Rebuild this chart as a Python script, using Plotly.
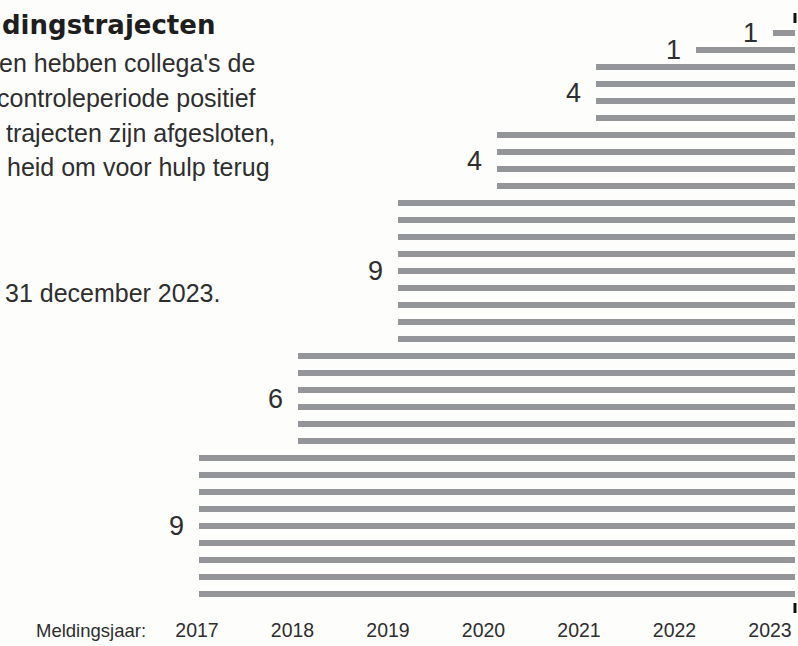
import plotly.graph_objects as go

# ---- data ----
report_years = [2017, 2018, 2019, 2020, 2021, 2022, 2023]
trajectory_counts = [9, 6, 9, 4, 4, 1, 1]
bar_start = [2017, 2018, 2019, 2020, 2021, 2022, 2022.78]
period_end = 2023
tick_labels = ["2017", "2018", "2019", "2020", "2021", "2022", "2023"]
axis_label = "Meldingsjaar:"
title_text = "dingstrajecten"
body_lines = [
    "en hebben collega's de",
    "controleperiode positief",
    " trajecten zijn afgesloten,",
    "heid om voor hulp terug",
    "31 december 2023.",
]

# ---- layout constants (pixels) ----
W, H = 798, 646
PLOT_BOTTOM = 616
X_PX0, X_SCALE = 199, 99.33      # main x axis: 2017 at 199px
X2_PX0, X2_SCALE = 197, 95.5     # label axis
ROW0_PX, ROW_PX = 594.3, 17.0
BAR_COLOR = "#939598"
TEXT_COLOR = "#2e2e2e"
BG = "#fdfdfc"

xr = [2017 - X_PX0 / X_SCALE, 2017 + (W - X_PX0) / X_SCALE]
x2r = [2017 - X2_PX0 / X2_SCALE, 2017 + (W - X2_PX0) / X2_SCALE]
yr = [(ROW0_PX - PLOT_BOTTOM) / ROW_PX, ROW0_PX / ROW_PX]

# build one row per trajectory
rows, bases, lengths, label_rows = [], [], [], []
r = 0
for s, c in zip(bar_start, trajectory_counts):
    first = r
    for _ in range(c):
        rows.append(r)
        bases.append(s)
        lengths.append(period_end - s)
        r += 1
    label_rows.append((first + r - 1) / 2)

fig = go.Figure()
fig.add_trace(go.Bar(
    orientation="h", y=rows, x=lengths, base=bases,
    width=6 / ROW_PX, marker=dict(color=BAR_COLOR, line=dict(width=0)),
    hoverinfo="skip", showlegend=False,
))
fig.add_trace(go.Scatter(
    x=report_years, y=[None] * len(report_years), xaxis="x2", yaxis="y",
    mode="markers", showlegend=False, hoverinfo="skip",
))

annotations = []
for s, c, lr in zip(bar_start, trajectory_counts, label_rows):
    annotations.append(dict(
        x=s, y=lr, xref="x", yref="y", text=str(c), showarrow=False,
        xanchor="right", yanchor="middle", xshift=-13,
        font=dict(family="Liberation Sans", size=27, color=TEXT_COLOR),
    ))

def py(px):
    return (PLOT_BOTTOM - px) / PLOT_BOTTOM

annotations.append(dict(
    x=217 / W, y=py(25), xref="paper", yref="paper", text="<b>" + title_text + "</b>",
    showarrow=False, xanchor="right", yanchor="middle",
    font=dict(family="DejaVu Sans", size=26, color="#1e1e1e"),
))
for txt, right, ypx in zip(body_lines, [257, 258, 278, 272, 222], [63, 98, 133, 167, 293]):
    annotations.append(dict(
        x=right / W, y=py(ypx), xref="paper", yref="paper", text=txt,
        showarrow=False, xanchor="right", yanchor="middle",
        font=dict(family="Liberation Sans", size=25, color=TEXT_COLOR),
    ))
annotations.append(dict(
    x=148 / W, y=py(630), xref="paper", yref="paper", text=axis_label,
    showarrow=False, xanchor="right", yanchor="middle",
    font=dict(family="Liberation Sans", size=18.5, color=TEXT_COLOR),
))

shapes = []
for y0, y1 in [(13, 23), (603, 613)]:
    shapes.append(dict(
        type="line", xref="x", yref="y", x0=period_end, x1=period_end,
        y0=(ROW0_PX - y0) / ROW_PX, y1=(ROW0_PX - y1) / ROW_PX,
        line=dict(color="#111111", width=3),
    ))

fig.update_layout(
    width=W, height=H,
    margin=dict(l=0, r=0, t=0, b=H - PLOT_BOTTOM),
    paper_bgcolor=BG, plot_bgcolor=BG,
    barmode="overlay", bargap=0,
    xaxis=dict(range=xr, visible=False, fixedrange=True),
    xaxis2=dict(range=x2r, overlaying="x", side="bottom", anchor="y",
                tickvals=report_years, ticktext=tick_labels,
                showgrid=False, zeroline=False, showline=False, ticks="",
                tickfont=dict(family="Liberation Sans", size=19.5, color=TEXT_COLOR),
                automargin=False),
    yaxis=dict(range=yr, visible=False, fixedrange=True),
    annotations=annotations,
    shapes=shapes,
)

fig.write_html(
    "out.html",
    config={"displayModeBar": False},
    post_script="document.body.style.margin='0';document.body.style.overflow='hidden';",
)
